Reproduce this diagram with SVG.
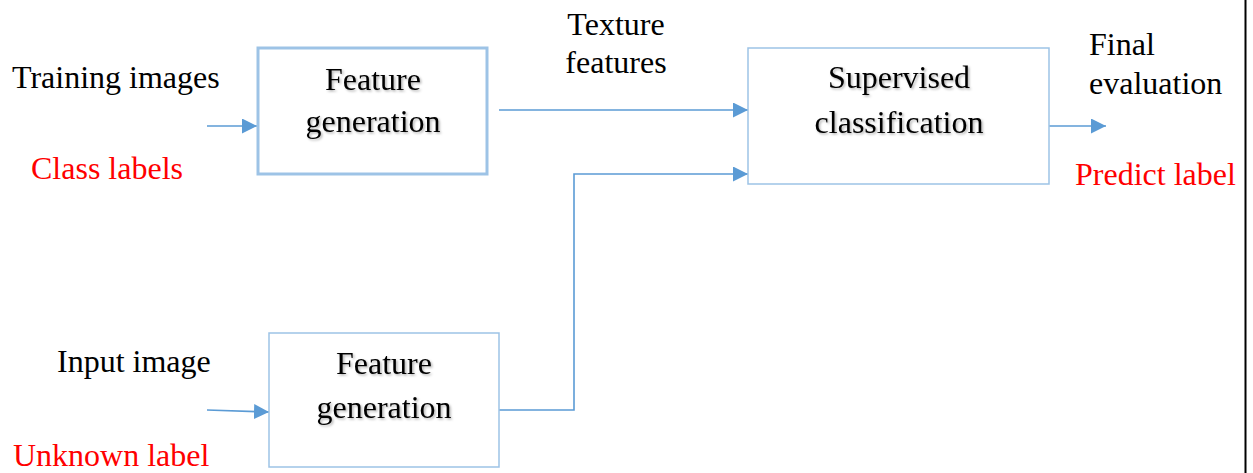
<svg xmlns="http://www.w3.org/2000/svg" width="1253" height="473" viewBox="0 0 1253 473">
  <style>
    .t { font-family: "Liberation Serif", "Times New Roman", serif; font-size: 32px; fill: #000; }
    .r { fill: #ff0000; }
    .c { text-anchor: middle; }
    .sh { filter: url(#shadow); }
    .box { fill: #ffffff; stroke: #9dc3e6; }
    .conn { fill: none; stroke: #5b9bd5; stroke-width: 1.6; }
  </style>
  <defs>
    <marker id="arrow" markerUnits="userSpaceOnUse" markerWidth="15" markerHeight="15" refX="15" refY="7.5" orient="auto">
      <path d="M0,0 L15,7.5 L0,15 z" fill="#5b9bd5"/>
    </marker>
    <filter id="shadow" x="-10%" y="-20%" width="130%" height="150%">
      <feDropShadow dx="1.5" dy="1.5" stdDeviation="1" flood-color="#000" flood-opacity="0.3"/>
    </filter>
  </defs>
  <rect width="1253" height="473" fill="#ffffff"/>
  <line x1="1245.5" y1="0" x2="1245.5" y2="473" stroke="#000" stroke-width="2"/>

  <g id="connectors">
    <line class="conn" x1="207" y1="126" x2="257" y2="126" marker-end="url(#arrow)"/>
    <line class="conn" x1="207" y1="410" x2="269" y2="412" marker-end="url(#arrow)"/>
    <line class="conn" x1="499" y1="110" x2="748" y2="110" marker-end="url(#arrow)"/>
    <polyline class="conn" points="499,410 574,410 574,174 748,174" marker-end="url(#arrow)"/>
    <line class="conn" x1="1049" y1="126" x2="1106" y2="126" marker-end="url(#arrow)"/>
  </g>

  <g id="feature-generation-1">
    <rect class="box" x="258" y="48" width="229" height="126" stroke-width="3"/>
    <text class="t c sh" x="373" y="90">Feature</text>
    <text class="t c sh" x="373" y="132">generation</text>
  </g>

  <g id="feature-generation-2">
    <rect class="box" x="269" y="333" width="230" height="134" stroke-width="1.5"/>
    <text class="t c sh" x="384" y="374">Feature</text>
    <text class="t c sh" x="384" y="418">generation</text>
  </g>

  <g id="supervised-classification">
    <rect class="box" x="748" y="48" width="301" height="136" stroke-width="1.5"/>
    <text class="t c sh" x="899" y="88">Supervised</text>
    <text class="t c sh" x="899" y="133">classification</text>
  </g>

  <g id="labels">
    <text class="t" x="12" y="88">Training images</text>
    <text class="t r" x="31" y="179">Class labels</text>
    <text class="t" x="57" y="372">Input image</text>
    <text class="t r" x="13" y="466">Unknown label</text>
    <text class="t c" x="616" y="35">Texture</text>
    <text class="t c" x="616" y="73">features</text>
    <text class="t" x="1089" y="55">Final</text>
    <text class="t" x="1089" y="94">evaluation</text>
    <text class="t r" x="1075" y="185">Predict label</text>
  </g>
</svg>
